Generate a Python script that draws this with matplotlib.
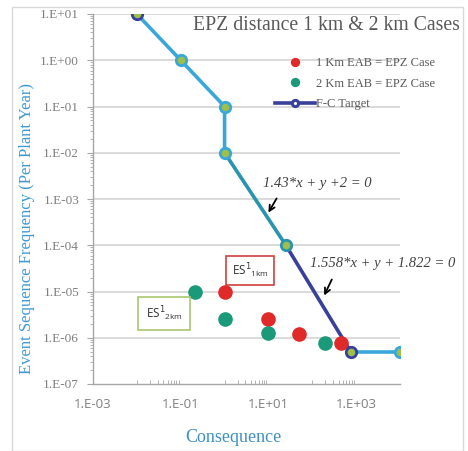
import matplotlib.pyplot as plt
import numpy as np
from matplotlib.patches import Rectangle
from matplotlib.ticker import NullFormatter

# F-C target curve (consequence, frequency)
fc_x = [0.01, 0.1, 1.0, 1.0, 25.0, 750.0, 1.0e4]
fc_y = [10.0, 1.0, 0.1, 0.01, 1.0e-4, 5.0e-7, 5.0e-7]

# 1 km EAB = EPZ case
km1_x = [1.0, 10.0, 50.0, 450.0]
km1_y = [1.0e-5, 2.5e-6, 1.2e-6, 7.8e-7]

# 2 km EAB = EPZ case
km2_x = [0.21, 1.0, 10.0, 200.0]
km2_y = [1.0e-5, 2.5e-6, 1.25e-6, 7.8e-7]

xticks = [1e-3, 1e-1, 1e1, 1e3]
xtick_labels = ["1.E-03", "1.E-01", "1.E+01", "1.E+03"]
yticks = [1e-7, 1e-6, 1e-5, 1e-4, 1e-3, 1e-2, 1e-1, 1e0, 1e1]
ytick_labels = ["1.E-07", "1.E-06", "1.E-05", "1.E-04", "1.E-03",
                "1.E-02", "1.E-01", "1.E+00", "1.E+01"]

serif = "Liberation Serif"
light_blue = "#3aa6da"
teal = "#2a93ad"
navy = "#39409a"
marker_fill = "#9cc04c"

fig = plt.figure(figsize=(4.68, 4.51), dpi=100)
ax = fig.add_axes([93 / 468, 1 - 384 / 451, 307 / 468, 370 / 451])

# outer frame
fig.patches.append(Rectangle((12 / 468, 0.0), 451 / 468, 1 - 7 / 451,
                             transform=fig.transFigure, fill=False,
                             edgecolor="#d9d9d9", linewidth=1.0))

ax.set_xscale("log")
ax.set_yscale("log")
ax.set_xlim(1e-3, 1e4)
ax.set_ylim(1e-7, 1e1)

for y in yticks[1:]:
    ax.axhline(y, color="#d4d4d4", linewidth=1.2, zorder=0)

# F-C target drawn in coloured pieces
segs = [(0, 4, light_blue), (3, 5, teal), (4, 6, navy), (5, 7, light_blue)]
for a, b, c in segs:
    ax.plot(fc_x[a:b], fc_y[a:b], "-", color=c, linewidth=2.6, zorder=3)
edge_cols = [navy, light_blue, light_blue, light_blue, teal, navy, light_blue]
for x, y, ec in zip(fc_x, fc_y, edge_cols):
    ax.plot(x, y, "o", markersize=7.5, markerfacecolor=marker_fill,
            markeredgecolor=ec, markeredgewidth=2.0, zorder=5)

ax.plot(km1_x, km1_y, "o", color="#e02a2a", markersize=9.5, zorder=4,
        label="1 Km EAB = EPZ Case")
ax.plot(km2_x, km2_y, "o", color="#1a9a78", markersize=9.5, zorder=4,
        label="2 Km EAB = EPZ Case")
ax.plot([], [], "-o", color=navy, linewidth=2.6, markersize=7.5,
        markerfacecolor="white", markeredgecolor=navy, markeredgewidth=2.2,
        label="F-C Target")

leg = ax.legend(loc="upper left", bbox_to_anchor=(182 / 307, 1 - 43 / 370),
                frameon=False, prop={"family": serif, "size": 9},
                handlelength=3.2, labelspacing=0.7, handletextpad=0.1,
                borderaxespad=0, borderpad=0, markerscale=0.6)
for t in leg.get_texts():
    t.set_color("#595959")

# axis styling
for s in ["top", "right"]:
    ax.spines[s].set_visible(False)
for s in ["left", "bottom"]:
    ax.spines[s].set_color("#a6a6a6")
    ax.spines[s].set_linewidth(1.0)

ax.set_xticks(xticks)
ax.set_xticklabels(xtick_labels)
minor_x = [10.0 ** k * m for k in [-2, 0, 2] for m in range(1, 10)]
ax.set_xticks(minor_x, minor=True)
ax.xaxis.set_minor_formatter(NullFormatter())
ax.tick_params(axis="x", which="major", length=0, pad=10, labelsize=9.5,
               labelcolor="#7f7f7f")
ax.tick_params(axis="x", which="minor", direction="in", length=3,
               color="#a6a6a6")
for lab in ax.get_xticklabels():
    lab.set_family("Open Sans")

ax.set_yticks(yticks)
ax.set_yticklabels(ytick_labels)
minor_y = [10.0 ** k * m for k in range(-7, 1) for m in range(2, 10)]
ax.set_yticks(minor_y, minor=True)
ax.yaxis.set_minor_formatter(NullFormatter())
ax.tick_params(axis="y", which="major", length=4, color="#a6a6a6",
               labelsize=9.5, labelcolor="#7f7f7f", pad=6)
ax.tick_params(axis="y", which="minor", length=2, color="#a6a6a6")
for lab in ax.get_yticklabels():
    lab.set_family(serif)

fig.text(233 / 468, 1 - 437 / 451, "Consequence", family=serif,
         fontsize=13, color="#3f8fc4", ha="center", va="center")
fig.text(27 / 468, 1 - 228 / 451, "Event Sequence Frequency (Per Plant Year)",
         family=serif, fontsize=12, color="#3f9ad2", ha="center",
         va="center", rotation=90)

# title and annotations
fig.text(460 / 468, 1 - 25 / 451, "EPZ distance 1 km & 2 km Cases",
         family=serif, fontsize=14.2, color="#595959", ha="right", va="center")
fig.text(263 / 468, 1 - 183 / 451, "1.43*x + y +2 = 0", family=serif,
         style="italic", fontsize=10.5, color="#404040", ha="left", va="center")
fig.text(310 / 468, 1 - 263 / 451, "1.558*x + y + 1.822 = 0", family=serif,
         style="italic", fontsize=10.5, color="#404040", ha="left", va="center")

ax.annotate("", xy=(267 / 468, 1 - 215 / 451), xytext=(278 / 468, 1 - 196 / 451),
            xycoords="figure fraction", textcoords="figure fraction",
            arrowprops=dict(arrowstyle="->", color="black", linewidth=1.3))
ax.annotate("", xy=(323 / 468, 1 - 298 / 451), xytext=(333 / 468, 1 - 277 / 451),
            xycoords="figure fraction", textcoords="figure fraction",
            arrowprops=dict(arrowstyle="->", color="black", linewidth=1.3))

fig.text(250 / 468, 1 - 270.5 / 451, r"ES$^{1}$$_{\mathregular{1km}}$",
         fontsize=8.5, color="#333333", ha="center", va="center",
         family="Open Sans",
         bbox=dict(boxstyle="square,pad=0.45", facecolor="white",
                   edgecolor="#d04040", linewidth=1.2))
fig.text(164 / 468, 1 - 313.5 / 451, r"ES$^{1}$$_{\mathregular{2km}}$",
         fontsize=8.5, color="#333333", ha="center", va="center",
         family="Open Sans",
         bbox=dict(boxstyle="square,pad=0.6", facecolor="white",
                   edgecolor="#a8c870", linewidth=1.2))

fig.savefig("out.png", dpi=100)
